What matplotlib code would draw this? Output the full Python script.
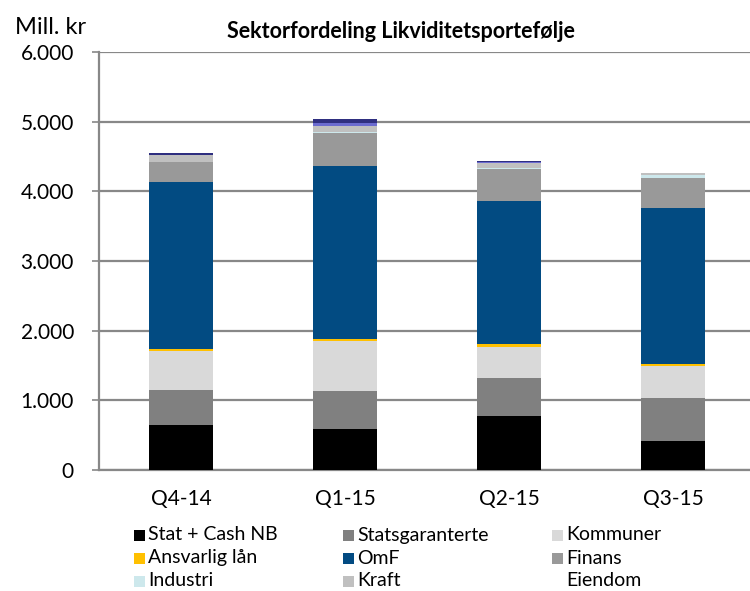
import matplotlib
matplotlib.use("Agg")
import matplotlib.pyplot as plt
from matplotlib.patches import Rectangle
from matplotlib.ticker import FuncFormatter, MultipleLocator
import numpy as np

plt.rcParams['font.family'] = ['Lato', 'DejaVu Sans']

categories = ["Q4-14", "Q1-15", "Q2-15", "Q3-15"]

stat_cash_nb    = [650, 590, 775, 415]
statsgaranterte = [500, 545, 545, 620]
kommuner        = [560, 718, 450, 460]
ansvarlig_laan  = [30, 30, 35, 25]
omf             = [2390, 2480, 2055, 2245]
finans          = [290, 470, 460, 430]
industri        = [0, 25, 20, 43]
kraft           = [95, 80, 65, 20]
eiendom         = [0, 0, 0, 0]
annet1          = [0, 45, 15, 0]
annet2          = [30, 55, 20, 0]

series = [
    ("Stat + Cash NB", stat_cash_nb, "#000000"),
    ("Statsgaranterte", statsgaranterte, "#808080"),
    ("Kommuner", kommuner, "#d9d9d9"),
    ("Ansvarlig lån", ansvarlig_laan, "#ffc000"),
    ("OmF", omf, "#024b82"),
    ("Finans", finans, "#999999"),
    ("Industri", industri, "#cde8ec"),
    ("Kraft", kraft, "#c0c0c0"),
    ("Eiendom", eiendom, "#ffffff"),
    (None, annet1, "#6b6bd0"),
    (None, annet2, "#2f2f80"),
]

W, H = 750, 591
fig = plt.figure(figsize=(W / 100, H / 100), dpi=100)
ax_left, ax_right, ax_bottom, ax_top = 99, 755, 470, 52
ax = fig.add_axes([ax_left / W, (H - ax_bottom) / H, (ax_right - ax_left) / W, (ax_bottom - ax_top) / H])

x = np.arange(len(categories))
bottom = np.zeros(len(categories))
for name, vals, color in series:
    v = np.array(vals, dtype=float)
    ax.bar(x, v, width=0.396, bottom=bottom, color=color, linewidth=0, zorder=3)
    bottom += v

ax.set_xlim(-0.5, 3.5)
ax.set_ylim(0, 6000)
ax.yaxis.set_major_locator(MultipleLocator(1000))
ax.yaxis.set_major_formatter(FuncFormatter(lambda v, p: f"{int(v):,}".replace(",", ".")))
ax.grid(axis='y', color="#888888", linewidth=1.6, zorder=0)
ax.set_axisbelow(True)
for s in ["top", "right"]:
    ax.spines[s].set_visible(False)
ax.spines["left"].set_color("#888888")
ax.spines["left"].set_linewidth(1.6)
ax.spines["bottom"].set_color("#888888")
ax.spines["bottom"].set_linewidth(1.6)
ax.tick_params(axis='y', length=5, width=1.2, color="#888888", labelsize=15, pad=13, labelcolor="#000000")
ax.tick_params(axis='x', length=0, labelsize=15, pad=14)
ax.set_xticks(x)
ax.set_xticklabels(categories)

fig.text(15 / W, 1 - 27 / H, "Mill. kr", fontsize=17, va="center", ha="left")
fig.text(401 / W, 1 - 32 / H, "Sektorfordeling Likviditetsportefølje", fontsize=15.5,
         fontweight="bold", va="center", ha="center")

# legend (row-wise, 3 columns)
marker_x = [134, 343, 552]
text_x = [148, 357, 566]
row_y = [535, 558, 581]
labeled = [s for s in series if s[0] is not None]
for i, (name, vals, color) in enumerate(labeled):
    r, c = divmod(i, 3)
    sz = 11
    fig.patches.append(Rectangle((marker_x[c] / W, (H - row_y[r] - sz / 2) / H), sz / W, sz / H,
                                 transform=fig.transFigure, facecolor=color, edgecolor="none"))
    fig.text(text_x[c] / W, 1 - row_y[r] / H, name, fontsize=14, va="center", ha="left")

fig.savefig("out.png", dpi=100)
